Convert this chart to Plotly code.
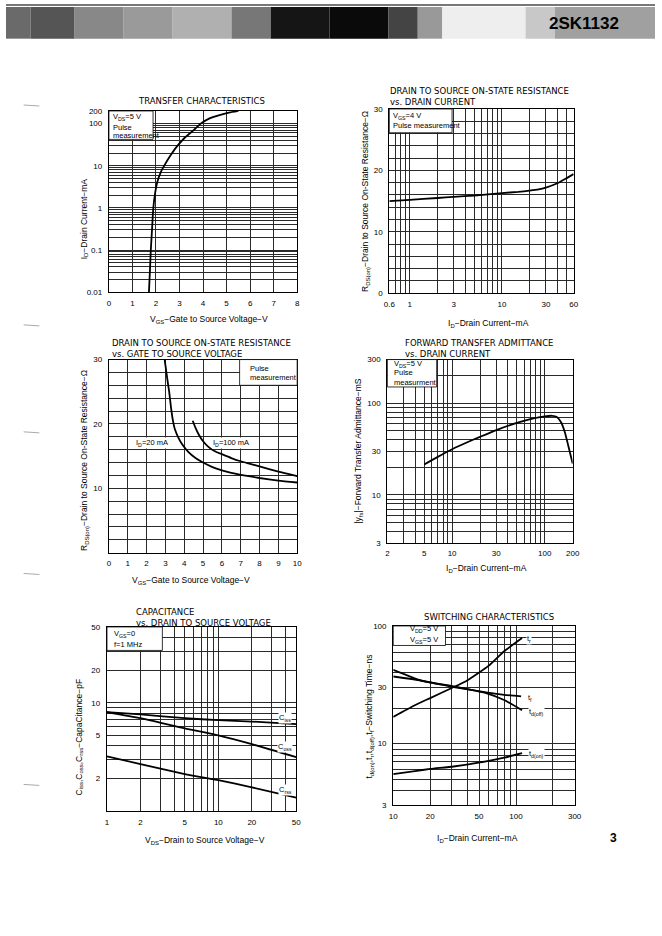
import math
import plotly.graph_objects as go

W, H = 662, 936
FONT = "Liberation Sans"
TFONT = "DejaVu Sans"


def fx(x):
    return x / W


def fy(y):
    return 1 - y / H


# ---------------- data ----------------
# 1) Transfer characteristics
transfer_vgs = [1.70, 1.74, 1.78, 1.83, 1.88, 1.95, 2.05, 2.2, 2.37, 2.6, 2.85, 3.2, 3.6, 3.9, 4.3, 4.7, 5.1, 5.5]
transfer_id = [0.01, 0.03, 0.1, 0.3, 0.9, 2.0, 4.0, 7.0, 10.5, 17, 27, 45, 70, 100, 135, 160, 182, 200]

# 2) RDS(on) vs drain current
rdsid_id = [0.6, 1, 2, 3, 5, 10, 15, 20, 25, 30, 40, 50, 60]
rdsid_r = [15.0, 15.2, 15.5, 15.7, 15.9, 16.3, 16.5, 16.7, 16.9, 17.2, 17.9, 18.7, 19.4]

# 3) RDS(on) vs gate voltage
rdsv_vgs_20 = [2.96, 3.1, 3.2, 3.3, 3.4, 3.5, 3.7, 3.9, 4.2, 4.6, 5.0, 5.5, 6.0, 6.5, 7.0, 8.0, 9.0, 10.0]
rdsv_r_20 = [30, 27, 25, 22.5, 20.5, 19.2, 17.8, 16.8, 15.7, 14.7, 14.0, 13.3, 12.8, 12.4, 12.1, 11.6, 11.2, 10.9]
rdsv_vgs_100 = [4.45, 4.6, 4.8, 5.0, 5.3, 5.6, 6.0, 6.5, 7.0, 7.5, 8.0, 9.0, 10.0]
rdsv_r_100 = [20.5, 19.4, 18.2, 17.3, 16.4, 15.8, 15.3, 14.7, 14.2, 13.8, 13.4, 12.6, 11.9]

# 4) Forward transfer admittance
yfs_id = [5, 7, 10, 15, 20, 30, 50, 70, 100, 120, 135, 150, 165, 180, 200]
yfs_ms = [21.5, 26, 31.5, 38, 43, 51, 61, 67, 72, 73, 71, 62, 48, 34, 22]

# 5) Capacitance
cap_vds = [1, 2, 5, 10, 20, 50]
cap_ciss = [8.2, 7.8, 7.2, 6.9, 6.7, 6.35]
cap_coss = [8.2, 7.2, 5.8, 5.0, 4.15, 3.15]
cap_crss = [3.2, 2.72, 2.2, 1.93, 1.66, 1.33]

# 6) Switching characteristics
sw_id_tr = [10, 15, 20, 30, 40, 60, 80, 112]
sw_tr = [16.9, 21.2, 24.4, 29.7, 34.4, 46, 61, 79]
sw_id_off = [10, 16.8, 31, 57, 80, 112]
sw_tdoff = [42.3, 34.4, 30.7, 26.9, 23.5, 19.2]
sw_id_tf = [10, 16.8, 31, 57, 80, 110]
sw_tf = [37.2, 34.4, 30.3, 27.3, 26.0, 25.2]
sw_id_on = [10, 15, 20, 31, 57, 80, 112]
sw_tdon = [5.52, 5.85, 6.1, 6.4, 7.07, 7.6, 8.3]

# tick labels
t1_x = [0, 1, 2, 3, 4, 5, 6, 7, 8]
t1_y = [0.01, 0.1, 1, 10, 100, 200]
t2_x = [0.6, 1, 3, 10, 30, 60]
t2_y = [0, 10, 20, 30]
t3_x = [0, 1, 2, 3, 4, 5, 6, 7, 8, 9, 10]
t3_y = [10, 20, 30]
t4_x = [2, 5, 10, 30, 100, 200]
t4_y = [3, 10, 30, 100, 300]
t5_x = [1, 2, 5, 10, 20, 50]
t5_y = [2, 5, 10, 20, 50]
t6_x = [10, 20, 50, 100, 300]
t6_y = [3, 10, 30, 100]


def decade_grid(lo, hi):
    out = []
    k = math.floor(math.log10(lo)) - 1
    while 10 ** k <= hi * 1.0001:
        for m in range(1, 10):
            v = round(m * 10 ** k, 10)
            if lo * 0.9999 <= v <= hi * 1.0001:
                out.append(v)
        k += 1
    return out


def lin_grid(lo, hi, step):
    n = int(round((hi - lo) / step))
    return [round(lo + i * step, 6) for i in range(n + 1)]


def fmt(v):
    return ("%g" % v)


GRID_C = "#2a2a2a"


def make_axis(dom, typ, lo, hi, grid, labels, anchor, standoff):
    rng = [math.log10(lo), math.log10(hi)] if typ == "log" else [lo, hi]
    return dict(
        domain=dom, type=typ, range=rng, tickmode="array", tickvals=labels,
        ticktext=[fmt(v) for v in labels],
        showgrid=True, gridcolor=GRID_C, gridwidth=0.75, showline=True, linecolor="black",
        linewidth=1.2, mirror=True, ticks="", zeroline=False, anchor=anchor,
        minor=dict(tickmode="array", tickvals=grid, showgrid=True, gridcolor=GRID_C,
                   gridwidth=0.75, ticks=""),
        tickfont=dict(family=FONT, size=8, color="black"), ticklabelstandoff=standoff,
        fixedrange=True,
    )


# panel pixel boxes: x0, x1, y0(top), y1(bottom)
P = {
    1: (105, 297, 108, 291),
    2: (391, 579, 106, 292),
    3: (105, 297, 359, 554),
    4: (389, 578, 359, 544),
    5: (103, 296, 629, 815),
    6: (395, 580, 628, 809),
}


def doms(i):
    x0, x1, y0, y1 = P[i]
    return [fx(x0), fx(x1)], [fy(y1), fy(y0)]


layout = dict(width=W, height=H, margin=dict(l=0, r=0, t=0, b=0),
              paper_bgcolor="white", plot_bgcolor="white", showlegend=False)

specs = {
    1: ("linear", 0, 8, lin_grid(0, 8, 1), t1_x, "log", 0.01, 200, decade_grid(0.01, 200), t1_y),
    2: ("log", 0.6, 60, decade_grid(0.6, 60), t2_x, "linear", 0, 30, lin_grid(0, 30, 2), t2_y),
    3: ("linear", 0, 10, lin_grid(0, 10, 1), t3_x, "linear", 0, 30, lin_grid(0, 30, 2), t3_y),
    4: ("log", 2, 200, decade_grid(2, 200), t4_x, "log", 3, 300, decade_grid(3, 300), t4_y),
    5: ("log", 1, 50, decade_grid(1, 50), t5_x, "log", 1, 50, decade_grid(1, 50), t5_y),
    6: ("log", 10, 300, decade_grid(10, 300), t6_x, "log", 3, 100, decade_grid(3, 100), t6_y),
}

for i, s in specs.items():
    xd, yd = doms(i)
    sx = "" if i == 1 else str(i)
    layout["xaxis" + sx] = make_axis(xd, s[0], s[1], s[2], s[3], s[4], "y" + sx, 3)
    layout["yaxis" + sx] = make_axis(yd, s[5], s[6], s[7], s[8], s[9], "x" + sx, 4)

fig = go.Figure()
LINE = dict(color="black", width=1.8, shape="spline", smoothing=0.5)


def curve(i, x, y):
    sx = "" if i == 1 else str(i)
    fig.add_trace(go.Scatter(x=x, y=y, mode="lines", line=LINE, xaxis="x" + sx, yaxis="y" + sx,
                             hoverinfo="skip", showlegend=False))


curve(1, transfer_vgs, transfer_id)
curve(2, rdsid_id, rdsid_r)
curve(3, rdsv_vgs_20, rdsv_r_20)
curve(3, rdsv_vgs_100, rdsv_r_100)
curve(4, yfs_id, yfs_ms)
curve(5, cap_vds, cap_ciss)
curve(5, cap_vds, cap_coss)
curve(5, cap_vds, cap_crss)
curve(6, sw_id_tr, sw_tr)
curve(6, sw_id_off, sw_tdoff)
curve(6, sw_id_tf, sw_tf)
curve(6, sw_id_on, sw_tdon)

shapes = []
ann = []


def rect(x0, y0, x1, y1, fill, line_w=0.0, line_c="black", layer="above"):
    shapes.append(dict(type="rect", xref="paper", yref="paper", x0=fx(x0), x1=fx(x1),
                       y0=fy(y1), y1=fy(y0), fillcolor=fill, layer=layer,
                       line=dict(width=line_w, color=line_c)))


def text(x, y, s, size=7.5, xanchor="left", angle=0, bg=None, bold=False, family=FONT,
         yanchor="middle"):
    d = dict(x=fx(x), y=fy(y), xref="paper", yref="paper", text=("<b>%s</b>" % s) if bold else s,
             showarrow=False, xanchor=xanchor, yanchor=yanchor, textangle=angle, align="left",
             font=dict(family=family, size=size, color="black"))
    if bg:
        d["bgcolor"] = bg
        d["borderpad"] = 0
    ann.append(d)


# ---- header band ----
band = [(0, 25, "#6a6a6a"), (25, 70, "#555555"), (70, 120, "#888888"), (120, 170, "#9a9a9a"),
        (170, 230, "#b0b0b0"), (230, 270, "#777777"), (270, 330, "#151515"), (330, 390, "#0a0a0a"),
        (390, 420, "#444444"), (420, 445, "#999999"), (445, 530, "#eeeeee"), (530, 560, "#c8c8c8"),
        (560, 662, "#a0a0a0")]
for a, b, c in band:
    rect(a, 3, b, 35, c, layer="below")
rect(0, 0, 662, 2, "#777777", layer="below")
text(590, 20, "2SK1132", size=17, xanchor="center", bold=True)

# ---- left margin scan marks ----
for yy in [102, 324, 432, 575, 788]:
    shapes.append(dict(type="line", xref="paper", yref="paper", x0=fx(18), x1=fx(34),
                       y0=fy(yy), y1=fy(yy + 1), line=dict(color="#aaaaaa", width=1)))

# ---- titles ----
TS = 8.5
text(199, 97.7, "TRANSFER CHARACTERISTICS", TS, "center", family=TFONT)
text(390, 80.5, "DRAIN TO SOURCE ON-STATE RESISTANCE<br>vs. DRAIN CURRENT", TS, family=TFONT, yanchor="top")
text(106, 335.5, "DRAIN TO SOURCE ON-STATE RESISTANCE<br>vs. GATE TO SOURCE VOLTAGE", TS, family=TFONT, yanchor="top")
text(405, 335, "FORWARD TRANSFER ADMITTANCE<br>vs. DRAIN CURRENT", TS, family=TFONT, yanchor="top")
text(131, 606.5, "CAPACITANCE<br>vs. DRAIN TO SOURCE VOLTAGE", TS, family=TFONT, yanchor="top")
text(492.5, 619, "SWITCHING CHARACTERISTICS", TS, "center", family=TFONT)

# ---- axis titles ----
AS = 8.5
text(206.7, 318.3, "V<sub>GS</sub>−Gate to Source Voltage−V", AS, "center")
text(80, 217, "I<sub>D</sub>−Drain Current−mA", AS, "center", angle=-90)
text(491.7, 322.7, "I<sub>D</sub>−Drain Current−mA", AS, "center")
text(366, 199, "R<sub>DS(on)</sub>−Drain to Source On-State Resistance−Ω", AS, "center", angle=-90)
text(188.3, 581.7, "V<sub>GS</sub>−Gate to Source Voltage−V", AS, "center")
text(80, 461, "R<sub>DS(on)</sub>−Drain to Source On-State Resistance−Ω", AS, "center", angle=-90)
text(490, 570, "I<sub>D</sub>−Drain Current−mA", AS, "center")
text(360, 451, "|y<sub>fs</sub>|−Forward Transfer Admittance−mS", AS, "center", angle=-90)
text(203, 845, "V<sub>DS</sub>−Drain to Source Voltage−V", AS, "center")
text(75, 740, "C<sub>iss</sub>,C<sub>oss</sub>,C<sub>rss</sub>−CapaCitance−pF", AS, "center", angle=-90)
text(481, 842.3, "I<sub>D</sub>−Drain Current−mA", AS, "center")
text(370.7, 719, "t<sub>d(on)</sub>,t<sub>r</sub>,t<sub>d(off)</sub>,t<sub>f</sub>−Switching Time−ns", AS, "center", angle=-90)

# ---- condition boxes ----
BS = 7.5
rect(105, 108, 150, 136.7, "white", 0.8)
text(107.3, 114.3, "V<sub>DS</sub>=5 V", BS)
text(107.3, 124.3, "Pulse", BS)
text(107.3, 132.7, "measurement", BS)

rect(391, 106, 455, 130, "white", 0.8)
text(392.5, 113.3, "V<sub>GS</sub>=4 V", BS)
text(392.5, 122.7, "Pulse measurement", BS)

rect(238.3, 359, 297, 385, "white", 0.8)
text(246.7, 367.7, "Pulse", BS)
text(246.7, 377.3, "measurement", BS)

rect(389, 359, 439.3, 386.7, "white", 0.8)
text(393.3, 363.3, "V<sub>DS</sub>=5 V", BS)
text(393.3, 371.7, "Pulse", BS)
text(393.3, 382.3, "measurment", BS)

rect(103, 629, 159.5, 652.7, "white", 0.8)
text(108.3, 636, "V<sub>GS</sub>=0", BS)
text(108.3, 646.7, "f=1 MHz", BS)

rect(395, 628, 448.3, 647.7, "white", 0.8)
text(410, 631, "V<sub>DD</sub>=5 V", BS)
text(410, 641.7, "V<sub>GS</sub>=5 V", BS)

# ---- curve labels ----
text(149.3, 443.3, "I<sub>D</sub>=20 mA", BS, "center", bg="white")
text(230, 443.3, "I<sub>D</sub>=100 mA", BS, "center", bg="white")
text(285, 720.7, "C<sub>iss</sub>", BS, "center", bg="white")
text(285, 750.7, "C<sub>oss</sub>", BS, "center", bg="white")
text(285, 793.3, "C<sub>rss</sub>", BS, "center", bg="white")
text(530, 641, "t<sub>r</sub>", BS, "left", bg="white")
text(531.7, 700.7, "t<sub>f</sub>", BS, "left", bg="white")
text(532, 715, "t<sub>d(off)</sub>", BS, "left", bg="white")
text(532, 757.3, "t<sub>d(on)</sub>", BS, "left", bg="white")

# page number
text(620, 842.5, "3", 12, "center", bold=True)

layout["shapes"] = shapes
layout["annotations"] = ann
fig.update_layout(**layout)
fig.write_html("out.html", config={"displayModeBar": False},
               post_script="document.body.style.margin='0';document.body.style.overflow='hidden';")
